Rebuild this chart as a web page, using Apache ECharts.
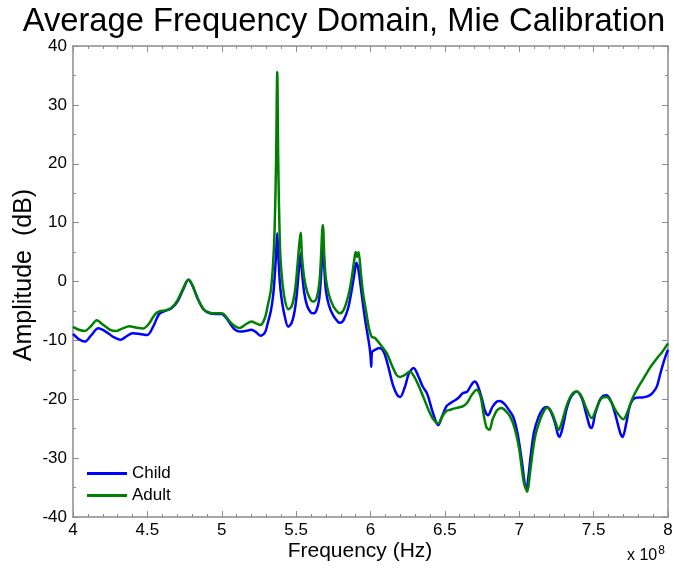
<!DOCTYPE html>
<html>
<head>
<meta charset="utf-8">
<script src="https://cdn.jsdelivr.net/npm/echarts@6/dist/echarts.min.js"></script>
<style>
html,body{margin:0;padding:0;background:#fff;}
#chart{width:688px;height:568px;}
</style>
</head>
<body>
<div id="chart"></div>
<script>
// Frequency in units of 1e8 Hz
var childFreq = [4.00,4.04,4.08,4.12,4.17,4.22,4.27,4.32,4.36,4.40,4.45,4.50,4.54,4.58,4.62,4.66,4.70,4.74,4.775,4.80,4.84,4.88,4.92,4.96,5.00,5.03,5.06,5.09,5.12,5.16,5.20,5.23,5.26,5.29,5.31,5.33,5.345,5.355,5.365,5.373,5.38,5.39,5.40,5.42,5.447,5.47,5.49,5.505,5.52,5.53,5.54,5.555,5.575,5.60,5.615,5.635,5.655,5.67,5.68,5.69,5.70,5.72,5.75,5.78,5.795,5.82,5.85,5.87,5.89,5.905,5.915,5.93,5.95,5.97,5.99,6.000,6.005,6.01,6.03,6.06,6.09,6.12,6.15,6.18,6.20,6.23,6.26,6.29,6.32,6.35,6.38,6.41,6.44,6.456,6.48,6.51,6.535,6.56,6.59,6.62,6.65,6.68,6.70,6.72,6.75,6.77,6.79,6.82,6.85,6.87,6.90,6.93,6.96,6.99,7.02,7.04,7.05,7.06,7.08,7.10,7.13,7.16,7.185,7.21,7.24,7.26,7.27,7.29,7.32,7.35,7.386,7.42,7.45,7.475,7.487,7.51,7.54,7.565,7.588,7.62,7.65,7.68,7.695,7.72,7.745,7.778,7.82,7.85,7.879,7.90,7.924,7.95,7.968,7.985,8.00];
var childAmp = [-8.9,-9.8,-10.2,-9.2,-7.95,-8.5,-9.4,-9.9,-9.3,-8.8,-8.9,-9.1,-7.6,-5.5,-5.0,-4.6,-3.5,-1.4,0.3,-0.5,-3.0,-4.8,-5.4,-5.5,-5.5,-6.2,-7.3,-8.2,-8.5,-8.4,-8.2,-8.6,-9.2,-8.7,-7.0,-5.0,-2.5,0.5,4.5,8.2,4.5,0,-2.5,-5.5,-7.7,-7.0,-5.0,-2.0,2.5,4.8,1.5,-2.0,-4.2,-5.3,-5.4,-5.0,-3.0,2.0,7.0,2.0,-1.5,-4.0,-5.8,-6.8,-7.0,-6.5,-4.5,-2.0,1.0,3.2,2.5,0,-4,-7.5,-10.5,-12.5,-14.5,-12.0,-11.6,-11.3,-12.0,-14.5,-17.5,-19.3,-19.6,-18.0,-15.5,-14.7,-16.0,-17.8,-19.0,-21.5,-23.8,-24.4,-23.0,-21.2,-20.7,-20.3,-19.8,-19.0,-18.7,-17.5,-17.0,-17.6,-20.0,-22.0,-22.7,-21.3,-20.4,-20.3,-20.8,-21.8,-23.0,-26.0,-31.0,-34.8,-35.1,-33.5,-29.0,-25.5,-23.0,-21.6,-21.3,-22.0,-24.0,-26.0,-26.4,-25.0,-21.5,-19.5,-18.7,-19.8,-22.5,-24.7,-24.9,-22.5,-20.2,-19.4,-19.3,-20.5,-23.0,-25.8,-26.4,-24.0,-21.0,-19.8,-19.7,-19.6,-19.3,-18.8,-17.9,-15.5,-13.9,-12.6,-11.6];

var adultFreq = [4.00,4.04,4.08,4.12,4.16,4.20,4.25,4.29,4.33,4.38,4.42,4.47,4.51,4.55,4.58,4.62,4.66,4.70,4.74,4.775,4.80,4.84,4.88,4.92,4.96,5.00,5.03,5.06,5.09,5.12,5.16,5.20,5.23,5.26,5.29,5.31,5.33,5.345,5.355,5.365,5.373,5.38,5.39,5.40,5.42,5.447,5.47,5.49,5.505,5.52,5.53,5.54,5.555,5.575,5.60,5.615,5.635,5.655,5.665,5.675,5.68,5.69,5.70,5.72,5.75,5.78,5.795,5.82,5.85,5.87,5.89,5.90,5.91,5.92,5.935,5.95,5.97,5.99,6.008,6.03,6.06,6.09,6.11,6.14,6.176,6.20,6.23,6.265,6.29,6.32,6.355,6.39,6.42,6.456,6.48,6.51,6.535,6.56,6.59,6.62,6.65,6.68,6.714,6.74,6.76,6.78,6.80,6.82,6.85,6.88,6.91,6.94,6.97,7.00,7.03,7.054,7.07,7.09,7.11,7.14,7.17,7.19,7.22,7.245,7.265,7.285,7.32,7.35,7.386,7.42,7.45,7.487,7.52,7.55,7.588,7.62,7.65,7.70,7.73,7.76,7.79,7.83,7.87,7.90,7.93,7.96,8.00];
var adultAmp = [-7.7,-8.2,-8.4,-7.6,-6.6,-7.3,-8.2,-8.4,-8.0,-7.6,-7.8,-8.0,-7.2,-5.6,-5.1,-4.9,-4.5,-3.3,-1.2,0.3,-0.5,-3.0,-4.8,-5.3,-5.4,-5.4,-6.0,-7.0,-7.6,-7.9,-7.3,-6.8,-7.1,-7.4,-6.2,-4.0,-1.5,3.0,8.5,20.0,35.6,20.0,7.0,2.0,-2.5,-4.7,-4.2,-2.0,1.5,6.0,8.3,4.0,0.5,-1.8,-3.2,-3.4,-3.0,-0.5,3.0,8.5,9.6,4.0,0.5,-2.2,-4.2,-5.2,-5.4,-4.8,-2.5,0,3.5,5.0,4.2,5.0,1.5,-2.0,-5.0,-8.0,-9.4,-9.6,-10.5,-11.5,-12.2,-14.0,-15.9,-16.2,-15.9,-15.3,-16.0,-17.5,-19.6,-21.8,-23.3,-24.1,-23.0,-22.0,-21.8,-21.6,-21.4,-21.2,-20.6,-19.3,-18.4,-19.5,-22.5,-24.8,-25.2,-23.5,-21.9,-21.5,-22.0,-23.0,-25.0,-28.5,-34.0,-35.7,-33.0,-29.0,-26.0,-23.5,-21.8,-21.4,-22.3,-24.0,-25.2,-24.0,-21.0,-19.3,-18.7,-19.6,-21.5,-23.2,-21.5,-19.9,-19.6,-20.5,-22.0,-23.4,-22.0,-19.9,-18.4,-16.7,-15.0,-13.9,-12.9,-12.0,-10.5];

var xTicks = ['4','4.5','5','5.5','6','6.5','7','7.5','8'];
var yTicks = ['-40','-30','-20','-10','0','10','20','30','40'];

function pairs(xs, ys){ var out=[]; for(var i=0;i<xs.length;i++){ out.push([xs[i], ys[i]]); } return out; }

var chart = echarts.init(document.getElementById('chart'), null, {renderer:'canvas'});
var axisGray = '#8c8c8c';
var font = 'Liberation Sans, Arial, sans-serif';

function xAxisCfg(pos, showLabels){
  return {
    type:'value', position:pos, min:4, max:8, interval:0.5,
    axisLine:{show:true, onZero:false, lineStyle:{color:axisGray, width:1.5}},
    axisTick:{show:true, inside:true, length:6, lineStyle:{color:axisGray, width:1}},
    minorTick:{show:true, splitNumber:5, length:3, lineStyle:{color:axisGray, width:1}},
    splitLine:{show:false},
    axisLabel:{show:showLabels, color:'#000', fontSize:17, fontFamily:font, margin:5,
      formatter:function(v){ var i=Math.round((v-4)/0.5); return xTicks[i]!==undefined?xTicks[i]:''; }}
  };
}
function yAxisCfg(pos, showLabels){
  return {
    type:'value', position:pos, min:-40, max:40, interval:10,
    axisLine:{show:true, onZero:false, lineStyle:{color:axisGray, width:1.5}},
    axisTick:{show:true, inside:true, length:6, lineStyle:{color:axisGray, width:1}},
    minorTick:{show:true, splitNumber:2, length:3, lineStyle:{color:axisGray, width:1}},
    splitLine:{show:false},
    axisLabel:{show:showLabels, color:'#000', fontSize:17, fontFamily:font, margin:6,
      formatter:function(v){ var i=Math.round((v+40)/10); return yTicks[i]!==undefined?yTicks[i]:''; }}
  };
}

chart.setOption({
  animation:false,
  backgroundColor:'#fff',
  title:{text:'Average Frequency Domain, Mie Calibration', left:'center', top:0,
    textStyle:{color:'#000', fontSize:32.7, fontWeight:'normal', fontFamily:font}},
  grid:{left:73, right:20, top:46, bottom:51, containLabel:false},
  xAxis:[xAxisCfg('bottom', true), xAxisCfg('top', false)],
  yAxis:[yAxisCfg('left', true), yAxisCfg('right', false)],
  legend:{
    left:82, top:460, orient:'vertical', itemWidth:40, itemHeight:3, itemGap:5,
    icon:'rect',
    textStyle:{color:'#000', fontSize:17, fontFamily:font},
    data:['Child','Adult']
  },
  graphic:[
    {type:'text', x:360, y:551,
     style:{text:'Frequency (Hz)', fill:'#000', font:'21px Liberation Sans, Arial, sans-serif', align:'center', verticalAlign:'middle'}},
    {type:'text', x:24, y:275, rotation:Math.PI/2,
     style:{text:'Amplitude  (dB)', fill:'#000', font:'25px Liberation Sans, Arial, sans-serif', align:'center', verticalAlign:'middle'}},
    {type:'text', left:627, top:545,
     style:{text:'x 10{s|8}', fill:'#000', font:'16px Liberation Sans, Arial, sans-serif',
      rich:{s:{fontSize:12, verticalAlign:'top', padding:[0,0,10,1], fill:'#000', fontFamily:font}}}}
  ],
  series:[
    {name:'Child', type:'line', xAxisIndex:0, yAxisIndex:0, data:pairs(childFreq, childAmp),
     showSymbol:false, symbol:'none', smooth:0.3, lineStyle:{color:'#0000ff', width:2.5}, itemStyle:{color:'#0000ff'}},
    {name:'Adult', type:'line', xAxisIndex:0, yAxisIndex:0, data:pairs(adultFreq, adultAmp),
     showSymbol:false, symbol:'none', smooth:0.3, lineStyle:{color:'#008000', width:2.5}, itemStyle:{color:'#008000'}}
  ]
});
</script>
</body>
</html>
